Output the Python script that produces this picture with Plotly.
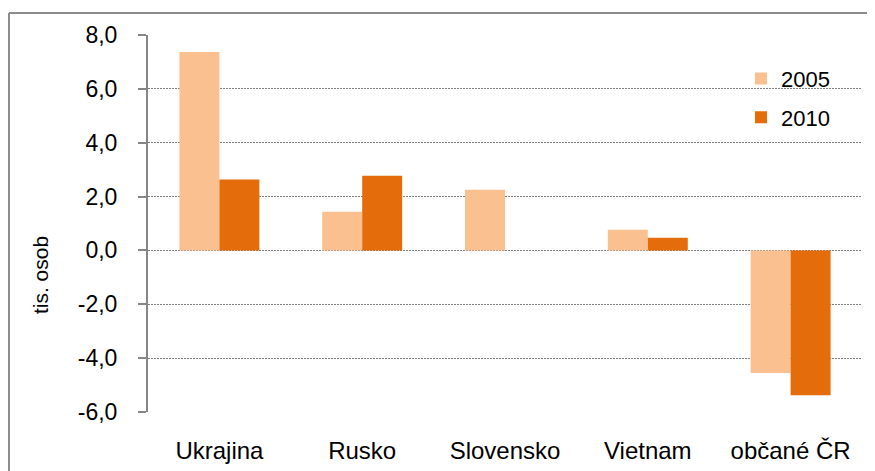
import plotly.graph_objects as go

categories = ["Ukrajina", "Rusko", "Slovensko", "Vietnam", "občané ČR"]
values_2005 = [7.37, 1.44, 2.25, 0.77, -4.55]
values_2010 = [2.63, 2.77, None, 0.47, -5.38]
series_names = ["2005", "2010"]
y_tickvals = [-6, -4, -2, 0, 2, 4, 6, 8]
y_ticktext = ["-6,0", "-4,0", "-2,0", "0,0", "2,0", "4,0", "6,0", "8,0"]
y_title = "tis. osob"

COL_2005 = "#FAC090"
COL_2010 = "#E46C0A"
GRAY = "#868686"
FONT = "Liberation Sans, Arial, sans-serif"

fig = go.Figure()
fig.add_trace(go.Bar(x=categories, y=values_2005, name=series_names[0],
                     marker=dict(color=COL_2005, line=dict(width=0)), legendgroup="a"))
fig.add_trace(go.Bar(x=categories, y=values_2010, name=series_names[1],
                     marker=dict(color=COL_2010, line=dict(width=0)), legendgroup="b"))

boundaries = [i - 0.5 for i in range(len(categories) + 1)]
y_min, y_max = -6, 8
zero_pos = (0 - y_min) / (y_max - y_min)

fig.update_layout(
    width=859, height=463,
    margin=dict(l=140, r=5, t=27, b=59, autoexpand=False),
    paper_bgcolor="white", plot_bgcolor="white",
    font=dict(family=FONT, size=23, color="black"),
    barmode="group", bargap=0.44, bargroupgap=0,
    showlegend=True,
    legend=dict(x=0.8305, y=0.9395, xanchor="left", yanchor="top",
                bgcolor="rgba(0,0,0,0)", font=dict(size=22, color="black"),
                tracegroupgap=7, itemwidth=30, maxheight=400),
    xaxis=dict(type="category", showline=False, ticks="", showgrid=False,
               zeroline=False, ticklabelstandoff=22, range=[-0.5, 4.5],
               tickfont=dict(size=24)),
    xaxis2=dict(overlaying="x", anchor="free", position=zero_pos,
                range=[-0.5, 4.5], tickvals=boundaries, showticklabels=False,
                ticks="outside", ticklen=8, tickwidth=2, tickcolor=GRAY,
                showline=True, linecolor=GRAY, linewidth=2, showgrid=False,
                zeroline=False),
    yaxis=dict(range=[y_min, y_max], tickvals=y_tickvals, ticktext=y_ticktext,
               showline=True, linecolor=GRAY, linewidth=2,
               ticks="outside", ticklen=8, tickwidth=2, tickcolor=GRAY,
               showgrid=True, gridcolor="#7f7f7f", gridwidth=1.2,
               griddash="1.5px,1.5px",
               zeroline=False, ticklabelstandoff=16, tickfont=dict(size=23)),
    shapes=[
        dict(type="line", xref="paper", yref="paper",
             x0=-0.1947, x1=-0.1947, y0=-0.3, y1=1.0584,
             line=dict(color="#8c8c8c", width=2), layer="above"),
        dict(type="line", xref="paper", yref="paper",
             x0=-0.1947, x1=1.03, y0=1.0584, y1=1.0584,
             line=dict(color="#8c8c8c", width=2), layer="above"),
    ],
    annotations=[dict(text=y_title, textangle=-90, xref="paper", yref="paper",
                      x=-0.1513, y=0.363, xanchor="center", yanchor="middle",
                      showarrow=False,
                      font=dict(size=21, family=FONT, color="black"))],
)

fig.write_html("out.html", config={"displayModeBar": False})
